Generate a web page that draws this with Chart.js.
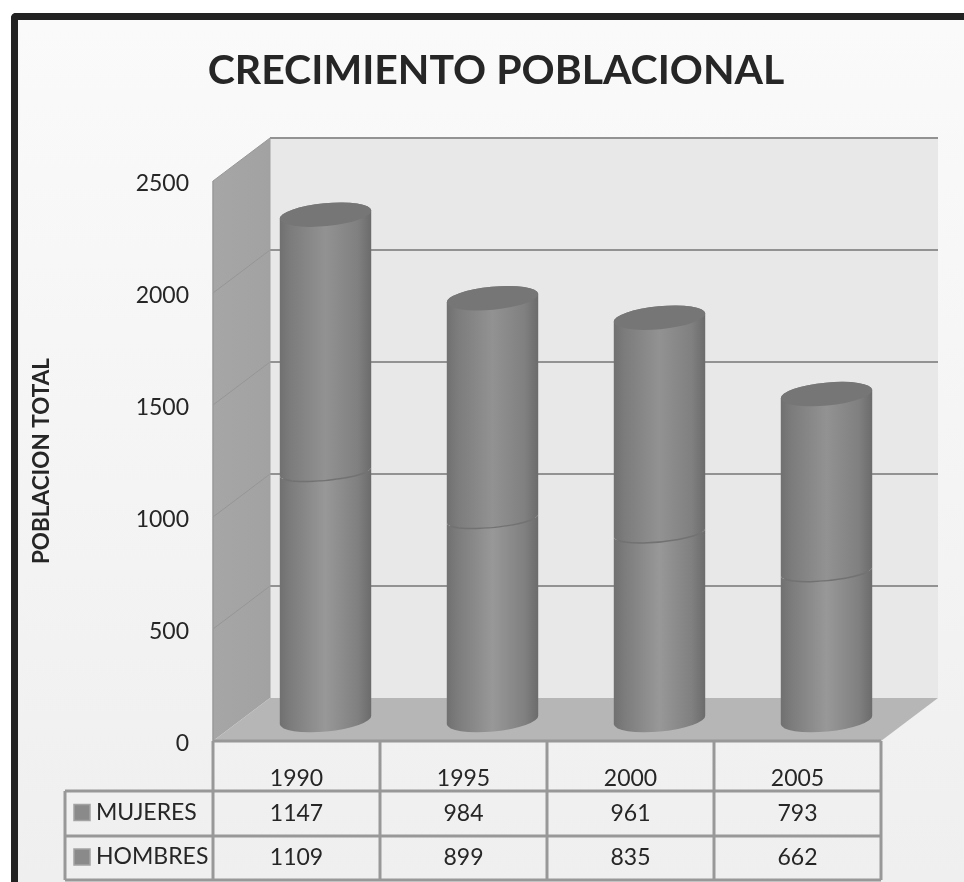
<!DOCTYPE html>
<html>
<head>
<meta charset="utf-8">
<style>
  html, body { margin: 0; padding: 0; background: #fff; overflow: hidden; }
  #frame {
    position: absolute; left: 11px; top: 13px; width: 953px; height: 869px;
    box-sizing: border-box; border-left: 7px solid #222; border-top: 7px solid #222;
    border-top-left-radius: 5px;
    background: linear-gradient(#fafafa, #efefef);
  }
  #wrap { position: absolute; left: 0; top: 0; width: 964px; height: 882px; }
</style>
<script src="https://cdn.jsdelivr.net/npm/chart.js@4/dist/chart.umd.min.js"></script>
</head>
<body>
<div id="frame"></div>
<div id="wrap"><canvas id="barChart" width="964" height="882"></canvas></div>
<script>
var years = ['1990', '1995', '2000', '2005'];
var mujeres = [1147, 984, 961, 793];
var hombres = [1109, 899, 835, 662];
var chartTitle = 'CRECIMIENTO POBLACIONAL';
var axisTitle = 'POBLACION TOTAL';

var fontName = 'Lato, "Open Sans", sans-serif';
var lineGrey = '#929292';
var tableGrey = '#989898';
var wallX = 57, wallY = -43;   // depth of the fake 3d box
var barX = 29, barY = -21;     // cylinders stand half way back
var tilt = -0.095;

function poly(ctx, pts, fill) {
    ctx.beginPath();
    pts.forEach(function (p, i) { if (i) ctx.lineTo(p[0], p[1]); else ctx.moveTo(p[0], p[1]); });
    ctx.closePath();
    ctx.fillStyle = fill;
    ctx.fill();
}

function line(ctx, x1, y1, x2, y2, color, width) {
    ctx.beginPath();
    ctx.moveTo(x1, y1);
    ctx.lineTo(x2, y2);
    ctx.strokeStyle = color;
    ctx.lineWidth = width;
    ctx.stroke();
}

// back wall, side wall, floor and grid lines, all from the y scale
var boxPlugin = {
    id: 'box',
    beforeDatasetsDraw: function (chart) {
        var ctx = chart.ctx, a = chart.chartArea, y = chart.scales.y;
        var top = y.getPixelForValue(2500), zero = y.getPixelForValue(0);
        ctx.save();
        poly(ctx, [[a.left + wallX, top + wallY], [a.right + wallX, top + wallY], [a.right + wallX, zero + wallY], [a.left + wallX, zero + wallY]], '#e8e8e8');
        var side = ctx.createLinearGradient(a.left, 0, a.left + wallX, 0);
        side.addColorStop(0, '#a6a6a6');
        side.addColorStop(1, '#a2a2a2');
        poly(ctx, [[a.left, top], [a.left + wallX, top + wallY], [a.left + wallX, zero + wallY], [a.left, zero]], side);
        poly(ctx, [[a.left, zero], [a.right, zero], [a.right + wallX, zero + wallY], [a.left + wallX, zero + wallY]], '#b6b6b6');
        y.ticks.forEach(function (t) {
            var py = y.getPixelForValue(t.value);
            if (t.value > 0) {
                line(ctx, a.left + wallX, py + wallY, a.right + wallX, py + wallY, lineGrey, 2);
                line(ctx, a.left, py, a.left + wallX, py + wallY, '#969696', 1);
            }
        });
        line(ctx, a.left, top, a.left, zero, '#989898', 1.5);
        line(ctx, a.left + wallX, top + wallY, a.left + wallX, zero + wallY, '#a0a0a0', 1);
        ctx.restore();
    },
    // cylinders replace the flat bars, geometry comes from the bar elements
    beforeDatasetDraw: function (chart, args) {
        var ctx = chart.ctx;
        var isTop = args.index === 1;
        args.meta.data.forEach(function (el) {
            var cx = el.x + barX, topY = el.y + barY, baseY = el.base + barY;
            var rx = el.width / 2, ry = 11.5, seamRy = 9;
            var g = ctx.createLinearGradient(cx - rx, 0, cx + rx, 0);
            g.addColorStop(0, '#707070');
            g.addColorStop(0.12, '#7c7c7c');
            g.addColorStop(0.5, isTop ? '#929292' : '#989898');
            g.addColorStop(0.85, '#808080');
            g.addColorStop(1, '#6b6b6b');
            ctx.save();
            ctx.beginPath();
            ctx.ellipse(cx, baseY, isTop ? rx : rx, isTop ? seamRy : ry, tilt, 0, Math.PI);
            if (isTop) {
                ctx.ellipse(cx, topY, rx, ry, tilt, Math.PI, Math.PI * 2);
            } else {
                // flat seam, so the lower part does not bulge into the upper one
                ctx.ellipse(cx, topY, rx, seamRy, tilt, Math.PI, 0, true);
            }
            ctx.closePath();
            ctx.fillStyle = g;
            ctx.fill();
            if (isTop) {
                ctx.beginPath();
                ctx.ellipse(cx, topY, rx, ry, tilt, 0, Math.PI * 2);
                ctx.fillStyle = '#767676';
                ctx.fill();
            } else {
                ctx.beginPath();
                ctx.ellipse(cx, topY, rx, seamRy, tilt, 0.12 * Math.PI, 0.88 * Math.PI);
                ctx.strokeStyle = '#727272';
                ctx.lineWidth = 1.5;
                ctx.stroke();
            }
            ctx.restore();
        });
        return false;
    }
};

// data table under the chart
var tablePlugin = {
    id: 'dataTable',
    afterDraw: function (chart) {
        var ctx = chart.ctx, a = chart.chartArea, x = chart.scales.x;
        var rows = [
            { label: 'MUJERES', values: mujeres, top: 791, bottom: 836 },
            { label: 'HOMBRES', values: hombres, top: 836, bottom: 880 }
        ];
        var tableLeft = 65;
        var step = (a.right - a.left) / years.length;
        ctx.save();
        line(ctx, a.left, a.bottom, a.right, a.bottom, tableGrey, 3);
        for (var i = 0; i <= years.length; i++) {
            line(ctx, a.left + step * i, a.bottom, a.left + step * i, 880, tableGrey, 3);
        }
        line(ctx, tableLeft, 791, a.right, 791, tableGrey, 3);
        line(ctx, tableLeft, 836, a.right, 836, tableGrey, 3);
        line(ctx, tableLeft, 880, a.right, 880, tableGrey, 3);
        line(ctx, tableLeft, 791, tableLeft, 880, tableGrey, 3);
        ctx.font = '23px ' + fontName;
        ctx.textBaseline = 'middle';
        rows.forEach(function (r) {
            var mid = (r.top + r.bottom) / 2;
            ctx.fillStyle = '#8a8a8a';
            ctx.strokeStyle = '#a3a3a3';
            ctx.lineWidth = 1.5;
            ctx.fillRect(74, mid - 9, 16, 16);
            ctx.strokeRect(74, mid - 9, 16, 16);
            ctx.fillStyle = '#262626';
            ctx.textAlign = 'left';
            ctx.fillText(r.label, 96, mid - 1);
            ctx.textAlign = 'center';
            r.values.forEach(function (v, i) {
                ctx.fillText(String(v), x.getPixelForValue(i), mid);
            });
        });
        ctx.restore();
    }
};

var ctx = document.getElementById('barChart').getContext('2d');
var myChart = new Chart(ctx, {
    type: 'bar',
    data: {
        labels: years,
        datasets: [
            { label: 'HOMBRES', data: hombres, backgroundColor: '#8a8a8a', barPercentage: 0.55, categoryPercentage: 1 },
            { label: 'MUJERES', data: mujeres, backgroundColor: '#8a8a8a', barPercentage: 0.55, categoryPercentage: 1 }
        ]
    },
    options: {
        responsive: false,
        animation: false,
        layout: { padding: { left: 28, right: 0, top: 0, bottom: 0 } },
        plugins: {
            legend: { display: false },
            tooltip: { enabled: false },
            title: {
                display: true,
                text: chartTitle,
                color: '#262626',
                font: { family: fontName, size: 41, weight: 'bold', lineHeight: 1.2 },
                padding: { top: 45.8, bottom: 86 }
            }
        },
        scales: {
            x: {
                stacked: true,
                grid: { display: false },
                border: { display: false },
                ticks: { color: '#262626', padding: 16, maxRotation: 0, font: { family: fontName, size: 23 } },
                afterFit: function (scale) { scale.height = 141; }
            },
            y: {
                stacked: true,
                min: 0,
                max: 2500,
                grid: { display: false, drawTicks: false },
                border: { display: false },
                ticks: {
                    stepSize: 500,
                    color: '#262626',
                    padding: 24,
                    labelOffset: 3,
                    font: { family: fontName, size: 23 },
                    callback: function (v) { return String(v); }
                },
                title: {
                    display: true,
                    text: axisTitle,
                    color: '#262626',
                    font: { family: fontName, size: 22.5, weight: 'bold' },
                    padding: { top: 0, bottom: 0 }
                },
                afterFit: function (scale) { scale.width = 185; }
            },
            // empty axis that only holds the gap right of the table
            gap: {
                position: 'right',
                grid: { display: false },
                border: { display: false },
                ticks: { display: false },
                afterFit: function (scale) { scale.width = 83; }
            }
        }
    },
    plugins: [boxPlugin, tablePlugin]
});
myChart.canvas.style.display = 'block';
</script>
</body>
</html>
